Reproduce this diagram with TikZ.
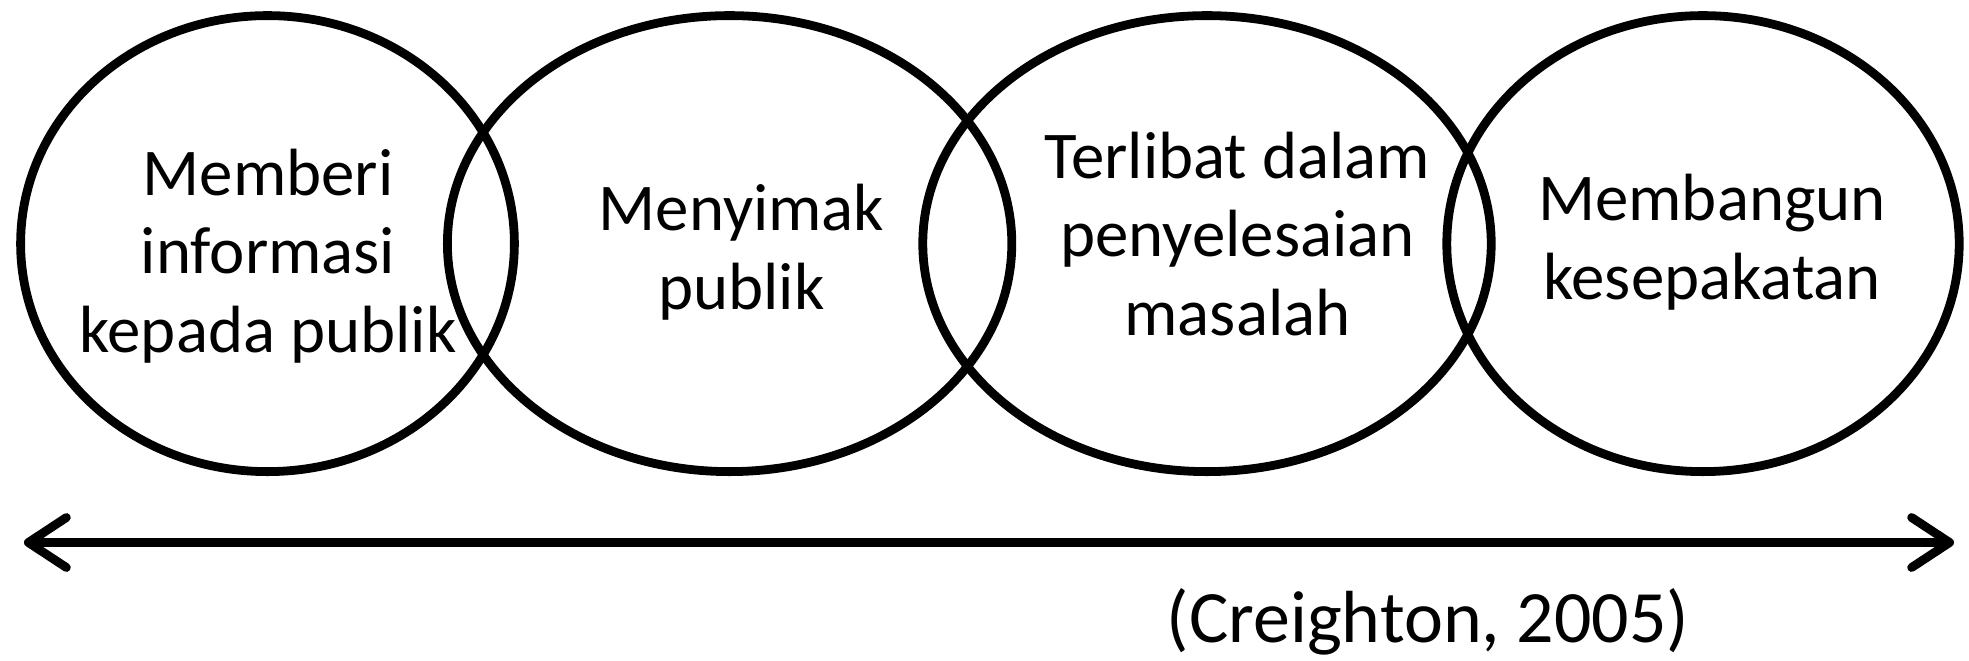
\documentclass[tikz,border=0pt]{standalone}
\usepackage{fontspec}
\setmainfont{Carlito}
\usetikzlibrary{shapes.geometric,arrows.meta}
\tikzset{
  ring/.style={draw,ellipse,line width=2.5pt,inner sep=0pt,minimum height=0.01cm*456},
  stage/.style={align=center,font=\fontsize{19}{22.4}\selectfont},
  source/.style={font=\fontsize{21}{25}\selectfont},
  barb/.style={line width=2.5pt,{Straight Barb[length=3.8mm,width=5mm,round]}-{Straight Barb[length=3.8mm,width=5mm,round]}},
}
\begin{document}
\begin{tikzpicture}[x=0.01cm,y=-0.01cm]
    \useasboundingbox (0,0) rectangle (1969,660);
    % the four overlapping rings
    \foreach \cx/\rx [count=\i] in {267.5/246.7,729.6/282,1207/284,1703/256}{
    \node[ring,minimum width={0.02cm*\rx}] (r\i) at (\cx,243.6) {};}
    \node[stage] (t1) at (268,256) {Memberi\\informasi\\kepada publik};
    \node[stage] (t2) at (741.5,252) {Menyimak\\publik};
    \node[stage] (t3) at (1237.5,234) {Terlibat dalam\\penyelesaian\\masalah};
    \node[stage] (t4) at (1712,242) {Membangun\\kesepakatan};
    % double arrow below
    \coordinate (left) at (24,542.5);
    \coordinate (right) at (1954,542.5);
    \draw[barb] (left)--(right);
    \node[source] (cite) at (1428,622) {(Creighton, 2005)};
\end{tikzpicture}
\end{document}
